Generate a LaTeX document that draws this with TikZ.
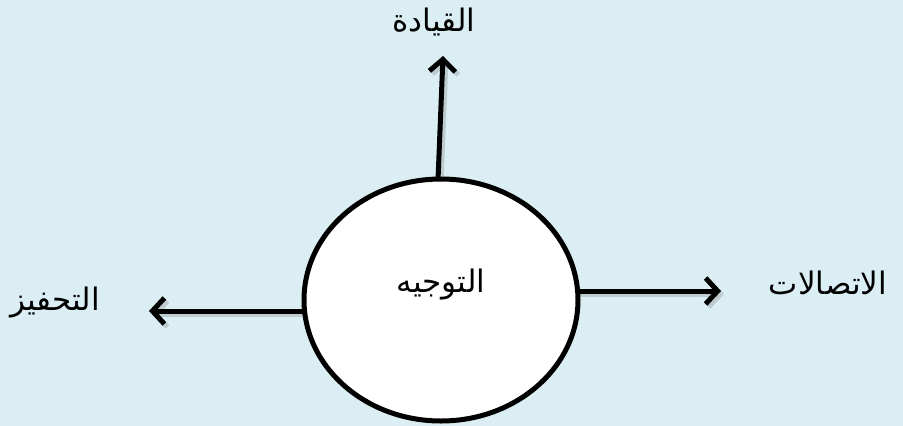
\documentclass[tikz,border=0pt]{standalone}
\usepackage{fontspec}
\newfontfamily\arabicfont[Script=Arabic]{DejaVu Sans}
\TeXXeTstate=1
\usetikzlibrary{arrows.meta,shapes.geometric}
\definecolor{bgblue}{HTML}{DAEEF3}
\tikzset{
  lbl/.style={font=\arabicfont\fontsize{31}{36}\selectfont, inner sep=0pt, text=black},
  conn/.style={line width=5pt, -{Straight Barb[length=12pt,width=26pt,line width=5pt]}},
  shad/.style={line width=5pt, draw=black!50, opacity=0.3, -{Straight Barb[length=12pt,width=26pt,line width=5pt]}},
  oval/.style={draw=black, line width=5pt, fill=white, ellipse, minimum width=274pt, minimum height=242pt, inner sep=0pt}
}
\begin{document}
\begin{tikzpicture}[x=1pt,y=-1pt]
\fill[bgblue] (0,0) rectangle (903,426);
\useasboundingbox (0,0) rectangle (903,426);
\coordinate (tTop) at (443,56);
\coordinate (tLeft) at (149,311);
\coordinate (tRight) at (721,291);
\coordinate (sTop) at (438,180);
\coordinate (sLeft) at (305,311);
\coordinate (sRight) at (577,291);
% shadows
\draw[shad] ([shift={(3,3)}]sTop) -- ([shift={(3,3)}]tTop);
\draw[shad] ([shift={(3,3)}]sLeft) -- ([shift={(3,3)}]tLeft);
\draw[shad] ([shift={(3,3)}]sRight) -- ([shift={(3,3)}]tRight);
% central ellipse
\node[oval] (c) at (441,300) {};
\node[lbl] (ct) at (441,285) {\beginR التوجيه\endR};
% connectors
\draw[conn] (sTop) -- (tTop);
\draw[conn] (sLeft) -- (tLeft);
\draw[conn] (sRight) -- (tRight);
% labels
\node[lbl] (lTop) at (434,22) {\beginR القيادة\endR};
\node[lbl] (lLeft) at (55,303) {\beginR التحفيز\endR};
\node[lbl] (lRight) at (828,283) {\beginR الاتصالات\endR};
\end{tikzpicture}
\end{document}
